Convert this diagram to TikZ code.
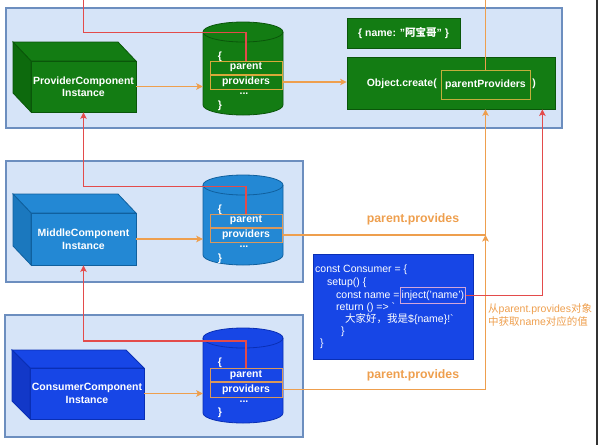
\documentclass[tikz,border=0pt]{standalone}
\usepackage{fontspec}
\setmainfont{Liberation Sans}
\newfontfamily\cjk{Noto Sans CJK SC}
\usetikzlibrary{arrows.meta,calc}
\definecolor{panelF}{HTML}{D6E4F8}
\definecolor{panelB}{HTML}{6C8EBF}
\definecolor{gF}{HTML}{137C13}
\definecolor{gD}{HTML}{0D6A0D}
\definecolor{gB}{HTML}{0A560A}
\definecolor{mF}{HTML}{2388D4}
\definecolor{mD}{HTML}{1B78BE}
\definecolor{mB}{HTML}{10609E}
\definecolor{bF}{HTML}{1746E6}
\definecolor{bD}{HTML}{1238C8}
\definecolor{bB}{HTML}{0A2FB5}
\definecolor{orL}{HTML}{EE9F4E}
\definecolor{orG}{HTML}{D9A83A}
\definecolor{orM}{HTML}{D9985C}
\definecolor{olv}{HTML}{C2AE3C}
\definecolor{redL}{HTML}{E34B4B}
\definecolor{injB}{HTML}{D2A6DA}
\tikzset{
  panel/.style={draw=panelB, fill=panelF, line width=1.1pt, minimum width=#1, inner sep=0pt},
  wtxt/.style={text=white, font=\bfseries\fontsize{10.5}{12.5}\selectfont, align=center},
  hbox/.style={draw=#1, line width=1pt, minimum width=72pt, inner sep=0pt, text=white, font=\bfseries\fontsize{10.5}{12}\selectfont},
  ctxt/.style={text=white, font=\bfseries\fontsize{10.5}{12}\selectfont, inner sep=0pt},
  code/.style={text=white, font=\fontsize{10.5}{12}\selectfont, inner sep=0pt, anchor=west},
  oline/.style={draw=orL, line width=1.1pt},
  oarrow/.style={oline, -{Stealth[length=6.5pt,width=6.5pt,inset=1.5pt]}},
  rline/.style={draw=redL, line width=1.1pt},
  rarrow/.style={rline, -{Stealth[length=6.5pt,width=6.5pt,inset=1.5pt]}},
  olbl/.style={text=orL, font=\bfseries\fontsize{12.3}{14}\selectfont},
}
\begin{document}
\begin{tikzpicture}[x=1pt,y=-1pt]
\useasboundingbox (0,0) rectangle (600,445);
\coordinate (topedge) at (0,0);
% panels
\node[panel=556pt, minimum height=120pt] (panT) at (284,68) {};
\node[panel=297pt, minimum height=121pt] (panM) at (154.5,221.5) {};
\node[panel=298pt, minimum height=122pt] (panB) at (154,376) {};
% right edge line
\draw[black!80, line width=2pt] (597,0) -- (597,445);

% ---------- cubes ----------
% top
\filldraw[fill=gF, draw=gB, line width=0.8pt] (31,61) -- (13,42) -- (118,42) -- (136,61) -- cycle;
\filldraw[fill=gD, draw=gB, line width=0.8pt] (31,61) -- (13,42) -- (13,93) -- (31,112) -- cycle;
\node[fill=gF, draw=gB, line width=0.8pt, minimum width=105pt, minimum height=51pt, inner sep=0pt, wtxt] (cubeT) at (83.5,86.5) {ProviderComponent\\Instance};
% middle
\filldraw[fill=mF, draw=mB, line width=0.8pt] (31,213) -- (13,194) -- (118,194) -- (136,213) -- cycle;
\filldraw[fill=mD, draw=mB, line width=0.8pt] (31,213) -- (13,194) -- (13,246) -- (31,265) -- cycle;
\node[fill=mF, draw=mB, line width=0.8pt, minimum width=105pt, minimum height=52pt, inner sep=0pt, wtxt] (cubeM) at (83.5,239) {MiddleComponent\\Instance};
% bottom
\filldraw[fill=bF, draw=bB, line width=0.8pt] (30,368) -- (12,350) -- (126,350) -- (144,368) -- cycle;
\filldraw[fill=bD, draw=bB, line width=0.8pt] (30,368) -- (12,350) -- (12,401) -- (30,419) -- cycle;
\node[fill=bF, draw=bB, line width=0.8pt, minimum width=114pt, minimum height=51pt, inner sep=0pt, wtxt] (cubeB) at (87,393.5) {ConsumerComponent\\Instance};

% ---------- cylinders ----------
% top
\filldraw[fill=gF, draw=gB, line width=0.8pt] (203,32) -- (203,105) arc[start angle=180,end angle=0,x radius=40,y radius=10] -- (283,32) arc[start angle=0,end angle=-180,x radius=40,y radius=10] -- cycle;
\draw[gB, line width=0.8pt] (203,32) arc[start angle=180,end angle=0,x radius=40,y radius=10];
\node[minimum width=80pt, minimum height=93pt, inner sep=0pt] (cylT) at (243,68.5) {};
\node[ctxt] (obT) at (220,57) {\{};
\node[hbox=orG, minimum height=13pt] (paT) at (246,67.5) {parent};
\node[hbox=orG, minimum height=14pt] (pvT) at (246,82) {providers};
\node[ctxt] (dtT) at (244,94) {...};
\node[ctxt] (cbT) at (220,106) {\}};
% middle
\filldraw[fill=mF, draw=mB, line width=0.8pt] (203,185) -- (203,255) arc[start angle=180,end angle=0,x radius=40,y radius=10] -- (283,185) arc[start angle=0,end angle=-180,x radius=40,y radius=10] -- cycle;
\draw[mB, line width=0.8pt] (203,185) arc[start angle=180,end angle=0,x radius=40,y radius=10];
\node[minimum width=80pt, minimum height=90pt, inner sep=0pt] (cylM) at (243,220) {};
\node[ctxt] (obM) at (220,210) {\{};
\node[hbox=orM, minimum height=13pt] (paM) at (246,220.5) {parent};
\node[hbox=orM, minimum height=14pt] (pvM) at (246,235) {providers};
\node[ctxt] (dtM) at (244,247) {...};
\node[ctxt] (cbM) at (220,259) {\}};
% bottom
\filldraw[fill=bF, draw=bB, line width=0.8pt] (203,338) -- (203,413) arc[start angle=180,end angle=0,x radius=40,y radius=10] -- (283,338) arc[start angle=0,end angle=-180,x radius=40,y radius=10] -- cycle;
\draw[bB, line width=0.8pt] (203,338) arc[start angle=180,end angle=0,x radius=40,y radius=10];
\node[minimum width=80pt, minimum height=95pt, inner sep=0pt] (cylB) at (243,375.5) {};
\node[ctxt] (obB) at (220,363) {\{};
\node[hbox=orM, minimum height=13pt] (paB) at (246,375) {parent};
\node[hbox=orM, minimum height=15pt] (pvB) at (246,389.5) {providers};
\node[ctxt] (dtB) at (244,402) {...};
\node[ctxt] (cbB) at (220,413) {\}};

% ---------- right top boxes ----------
\node[fill=gF, draw=gB, line width=0.8pt, minimum width=113pt, minimum height=30pt, inner sep=0pt, wtxt] (nm) at (403.5,33) {\{ name: "{\cjk 阿宝哥}" \}};
\node[fill=gF, draw=gB, line width=0.8pt, minimum width=208pt, minimum height=52pt, inner sep=0pt] (obj) at (451,83) {};
\node[wtxt, inner sep=0pt, anchor=east] (oc) at (437,84) {Object.create(};
\node[draw=olv, line width=1pt, minimum width=89pt, minimum height=29pt, inner sep=0pt, wtxt] (ppv) at (485.5,84.5) {parentProviders};
\node[wtxt, inner sep=0pt] (cp) at (534,84) {)};

% ---------- code box ----------
\node[fill=bF, draw=bB, line width=0.8pt, minimum width=160pt, minimum height=105pt, inner sep=0pt] (code) at (393,306.5) {};
\node[code] (c1) at (315,270) {const Consumer = \{};
\node[code] (c2) at (327,283) {setup() \{};
\node[code] (c3) at (336,295.5) {const name =\ };
\node[code, draw=injB, line width=1pt, minimum height=16pt, inner xsep=1.5pt] (inj) at (c3.east) {inject('name')};
\node[code] (c4) at (336,307.5) {return () => \textasciigrave};
\node[code] (c5) at (345,319.5) {{\cjk 大家好，我是}\$\{name\}!\textasciigrave};
\node[code] (c6) at (341,332) {\}};
\node[code] (c7) at (320,344) {\}};

% ---------- labels ----------
\node[olbl] (pp1) at (413,219) {parent.provides};
\node[olbl] (pp2) at (413,375) {parent.provides};
\node[anchor=north west, inner sep=0pt, align=left, text=orL, font=\fontsize{10.5}{13.5}\selectfont] (note) at (488,303) {{\cjk 从}parent.provides{\cjk 对象}\\{\cjk 中获取}name{\cjk 对应的值}};

% ---------- connectors ----------
\draw[oarrow] (cubeT.east) -- (cubeT.east -| cylT.west);
\draw[oarrow] (cubeM.east) -- (cubeM.east -| cylM.west);
\draw[oarrow] (cubeB.east) -- (cubeB.east -| cylB.west);
\draw[oarrow] (pvT.east) -- (pvT.east -| obj.west);
\draw[oline] (ppv.north) -- (ppv.north |- topedge);
\draw[oarrow] (pvM.east) -| (ppv.south |- obj.south);
\draw[oarrow] (pvB.east) -| (ppv.south |- pvM.east);
\draw[rline] (paT.north) -- ++(0,-28) -| (cubeT.south |- topedge);
\draw[rarrow] (paM.north) -- ++(0,-27) -| (cubeT.south);
\draw[rarrow] (paB.north) -- ++(0,-27) -| (cubeM.south);
\draw[rarrow] (inj.east) -| ($(obj.south east)+(-13,0)$);
\end{tikzpicture}
\end{document}
